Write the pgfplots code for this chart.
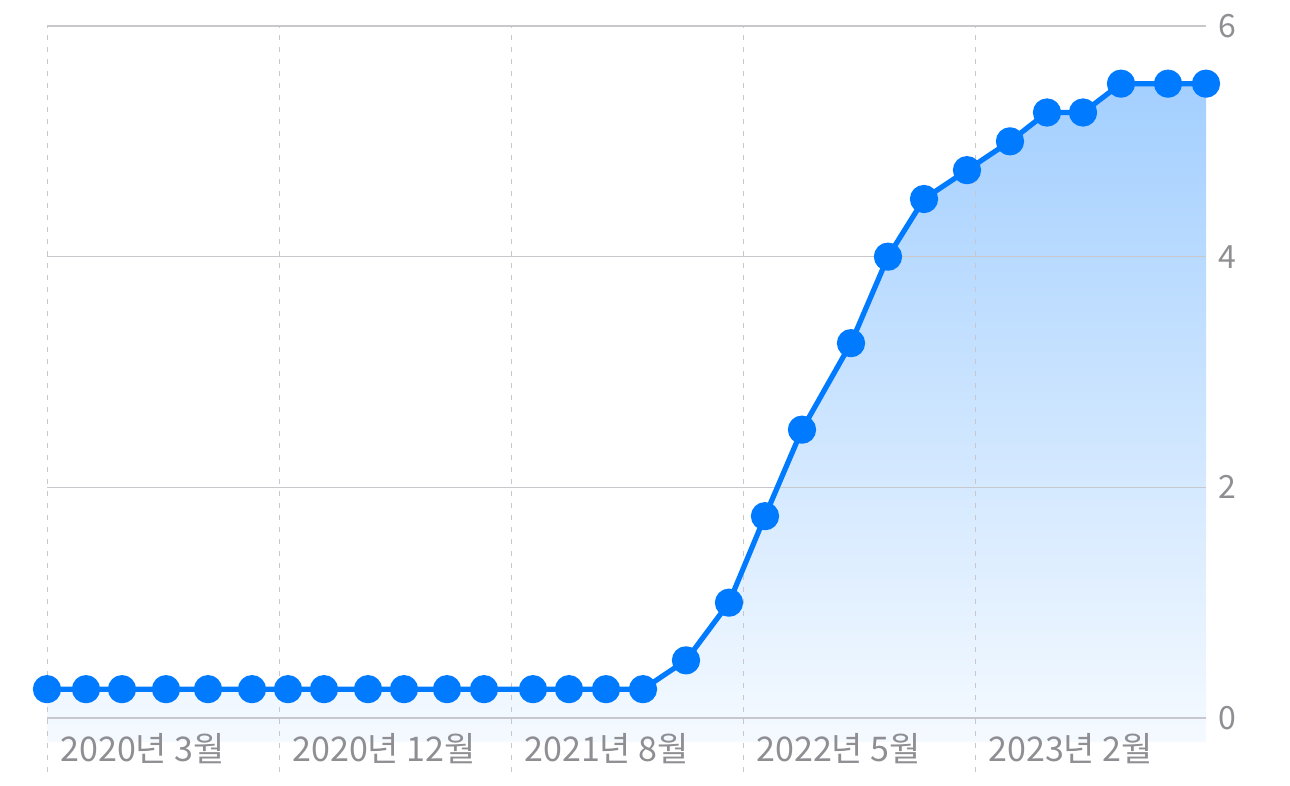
\documentclass[border=0pt]{standalone}
\usepackage{fontspec}
\usepackage{pgfplots}
\pgfplotsset{compat=1.18}
\usepackage{pgfplotstable}
\newfontfamily\kr{Noto Sans CJK KR}
\definecolor{iosblue}{HTML}{007AFF}
\definecolor{labgray}{HTML}{8E8E93}
\definecolor{gridgray}{HTML}{C8C8CC}

\pgfplotstableread{
x y
47 0.25
86 0.25
122 0.25
166 0.25
208 0.25
252 0.25
288 0.25
324 0.25
368 0.25
404 0.25
447 0.25
484 0.25
533 0.25
569 0.25
606 0.25
643 0.25
686 0.5
729 1.0
765 1.75
802 2.5
851 3.25
888 4.0
924 4.5
967 4.75
1010 5.0
1047 5.25
1083 5.25
1121 5.5
1168 5.5
1206 5.5
}\rates

\begin{document}
\begin{tikzpicture}
\begin{axis}[
  set layers,
  at={(23.5bp,7bp)}, anchor=south west,
  scale only axis,
  width=579.5bp, height=373bp,
  xmin=47, xmax=1206,
  ymin=-0.468, ymax=6,
  clip=false,
  axis line style={draw=none},
  major tick length=0pt,
  xtick={47,279,511,743,975},
  xticklabels={2020년 3월,2020년 12월,2021년 8월,2022년 5월,2023년 2월},
  ytick={0,2,4,6},
  yticklabel pos=right,
  /pgf/number format/assume math mode=true,
  xticklabel style={font=\kr\fontsize{17bp}{17bp}\selectfont, text=labgray, anchor=base west, inner sep=0pt, xshift=6.5bp, yshift=5.5bp},
  yticklabel style={font=\kr\fontsize{16bp}{16bp}\selectfont, text=labgray, anchor=west, inner sep=0pt, xshift=6bp},
  xmajorgrids, ymajorgrids,
  x grid style={gridgray, line width=0.5bp, dash pattern=on 2.5bp off 3.5bp},
  y grid style={gridgray, line width=0.75bp},
]
\addplot[on layer=axis background, draw=none, top color=iosblue!36!white, bottom color=iosblue!4!white]
  table[x=x,y=y]{\rates} -- (axis cs:1206,-0.208) -- (axis cs:47,-0.208) -- cycle;
\addplot[iosblue, line width=2.6bp, line join=round, mark=*, mark size=5.75bp, mark options={fill=iosblue, draw=none}]
  table[x=x,y=y]{\rates};
\end{axis}
\pgfresetboundingbox
\path[use as bounding box] (0,0) rectangle (645bp,393bp);
\end{tikzpicture}
\end{document}
